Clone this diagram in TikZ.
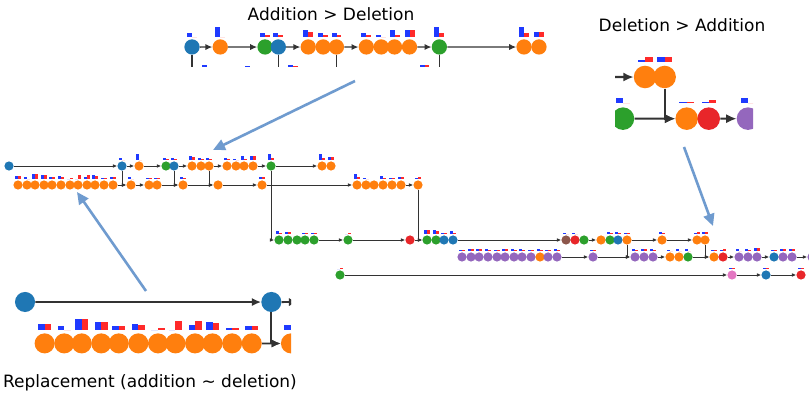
\documentclass[tikz,border=0pt]{standalone}
\usepackage{fontspec}
\setmainfont{DejaVu Sans}
\usetikzlibrary{arrows.meta}

\definecolor{corange}{HTML}{FF7F0E}
\definecolor{cblue}{HTML}{1F77B4}
\definecolor{cgreen}{HTML}{2CA02C}
\definecolor{cred}{HTML}{E8262A}
\definecolor{cpurple}{HTML}{9467BD}
\definecolor{cbrown}{HTML}{8C564B}
\definecolor{cpink}{HTML}{E377C2}
\definecolor{barblue}{HTML}{1F3AFF}
\definecolor{barred}{HTML}{FF2A2A}
\definecolor{calloutblue}{HTML}{6F9BCF}

\def\zoomf{1}   % size factor of dots, lines and tips
\tikzset{
  dot/.style={circle, inner sep=0pt, minimum size=\zoomf*9.2pt, fill=#1},
  link/.style={draw=black!80, line width=\zoomf*0.85pt, -{Latex[length=0pt 5, width=0pt 4.4]}},
  callout/.style={draw=calloutblue, line width=2.6pt, -{Triangle[length=12pt, width=11pt]}},
  title/.style={font=\fontsize{17}{20}\selectfont, inner sep=0pt}
}

% blue / red bar pair above a dot
\newcommand{\histbar}[3]{%
  \fill[barblue] (#1.center) ++(-3,-6.3) rectangle ++(3,-#2);
  \fill[barred] (#1.center) ++(0,-6.3) rectangle ++(3,-#3);}

\newcommand{\pathgraph}{%
  % row A
  \foreach \i/\x/\col in {0/9/cblue,1/122/cblue,2/139/corange,3/166/cgreen,4/174/cblue,5/192/corange,6/201/corange,7/209/corange,8/227/corange,9/236/corange,10/244/corange,11/253/corange,12/271/cgreen,13/322/corange,14/331/corange}
    {\node[dot=\col] (a\i) at (\x,166) {};}
  % row B
  \foreach \i/\x in {1/18,2/27,3/35,4/44,5/52,6/61,7/70,8/78,9/87,10/95,11/104,12/113,13/131,14/149,15/157,16/183,17/218,18/262,19/357,20/366,21/374,22/383,23/392,24/401,25/418}
    {\node[dot=corange] (b\i) at (\x,185) {};}
  % row C
  \foreach \i/\x/\col in {1/279/cgreen,2/288/cgreen,3/297/cgreen,4/305/cgreen,5/314/cgreen,6/348/cgreen,7/410/cred,8/427/cgreen,9/436/cgreen,10/444/cblue,11/453/cblue,12/566/cbrown,13/575/cred,14/584/cgreen,15/601/corange,16/610/cgreen,17/618/cblue,18/627/corange,19/662/corange,20/697/corange,21/705/corange}
    {\node[dot=\col] (c\i) at (\x,240) {};}
  % row D
  \foreach \i/\x/\col in {1/462/cpurple,2/471/cpurple,3/479/cpurple,4/488/cpurple,5/497/cpurple,6/505/cpurple,7/514/cpurple,8/522/cpurple,9/531/cpurple,10/540/corange,11/548/cpurple,12/557/cpurple,13/593/cpurple,14/635/cpurple,15/644/cpurple,16/653/cpurple,17/670/corange,18/679/corange,19/688/cgreen,20/714/corange,21/723/cred,22/739/cpurple,23/748/cpurple,24/757/cpurple,25/774/cblue,26/783/cpurple,27/792/cpurple,28/812/cpurple}
    {\node[dot=\col] (d\i) at (\x,257) {};}
  % row E
  \foreach \i/\x/\col in {1/340/cgreen,2/732/cpink,3/766/cblue,4/801/cred}
    {\node[dot=\col] (e\i) at (\x,275) {};}
  % edges
  \foreach \s/\t in {a0/a1,a1/a2,a2/a3,a4/a5,a7/a8,a11/a12,a12/a13,b12/b13,b13/b14,b15/b16,b16/b17,b17/b18,b18/b19,b24/b25,c5/c6,c6/c7,c7/c8,c11/c12,c14/c15,c18/c19,c19/c20,d12/d13,d13/d14,d16/d17,d19/d20,d21/d22,d24/d25,d27/d28,e1/e2,e2/e3,e3/e4}
    {\draw[link] (\s) -- (\t);}
  \foreach \s/\t in {a1/b13,a4/b16,a7/b17,a12/c1,b25/c8,c18/d14,c21/d20}
    {\draw[link] (\s) |- (\t);}
  % bars
  \foreach \nd/\bh/\rh in {a1/2/0,a2/6/0,a3/2/1,a4/2/1,a5/4/3,a6/2/1,a7/2/1,a8/2/1,a9/1/0,a10/4/1,a11/4/4,a12/6/2,a13/6/2,a14/3/3,
      b1/2.5/2.5,b2/1.5/0,b3/5/5,b4/3.5/3.5,b5/1.5/1.5,b6/2.5/2,b7/0/0.7,b8/0/4,b9/2/4,b10/3.5/3,b11/0.7/0.7,b12/1.5/1.5,b13/2/0,b14/0.7/0.7,b15/1/0.5,b16/2/1,b18/2/2,b19/5/1.5,b20/0.7/0,b22/3/1,b23/0.7/0.7,b24/2/1.5,b25/1/1.5,
      c1/3/1,c2/1.5/2,c4/0.7/0.7,c5/1/1,c6/0/0.7,c8/4/4,c9/4/3,c10/1/1,c11/3/1,c12/1/0,c13/1/0,c16/2/1,c17/2/0.5,c18/0.7/0.7,c19/2/1,c20/0.7/2,c21/2/2,
      d1/1/1,d2/2/2,d3/2/2,d4/2/1,d5/0.7/0.7,d6/2/2,d7/2/1,d8/2/1,d9/0.7/0.7,d10/2/1,d11/1/1,d12/2/1,d13/1/1,d14/2/1,d15/2/2,d16/2/1,d17/0.7/0,d18/2/0,d19/2/0,d20/0.7/0.7,d21/0.7/1.5,d22/2/0,d23/2/1,d24/3/3,d25/0.7/0.7,d26/2/2,d27/2/2,
      e1/0/1,e2/0.7/0.7,e3/0.7/0.7,e4/0.7/1}
    {\histbar{\nd}{\bh}{\rh}}
}

\begin{document}
\begin{tikzpicture}[x=1pt,y=-1pt]
  \path[use as bounding box, fill=white] (0,0) rectangle (809,411);
  % the whole history
  \pathgraph
  % top zoom
  \begin{scope}
    \clip (184,20) rectangle (548,67);
    \begin{scope}[shift={(-10.5,-228.6)}, scale=1.66]
      \def\zoomf{1.66}
      \pathgraph
    \end{scope}
  \end{scope}
  % right zoom
  \begin{scope}
    \clip (615,48) rectangle (753,135);
    \begin{scope}[shift={(-1062.6,-511)}, scale=2.45]
      \def\zoomf{2.45}
      \pathgraph
    \end{scope}
  \end{scope}
  % left zoom
  \begin{scope}
    \clip (13,291) rectangle (291,360);
    \begin{scope}[shift={(5.4,-59.9)}, scale=2.18]
      \def\zoomf{2.18}
      \pathgraph
    \end{scope}
  \end{scope}
  % labels
  \node[title] (addlab) at (331,14) {Addition > Deletion};
  \node[title] (dellab) at (682,25) {Deletion > Addition};
  \node[title] (replab) at (150,383) {Replacement (addition \textasciitilde{} deletion)};
  % callouts
  \coordinate (upfrom) at (355,81);
  \coordinate (upto) at (213,150);
  \coordinate (leftfrom) at (146,291);
  \coordinate (leftto) at (77,192);
  \coordinate (rightfrom) at (684,147);
  \coordinate (rightto) at (713,226);
  \draw[callout] (upfrom) -- (upto);
  \draw[callout] (leftfrom) -- (leftto);
  \draw[callout] (rightfrom) -- (rightto);
\end{tikzpicture}
\end{document}
